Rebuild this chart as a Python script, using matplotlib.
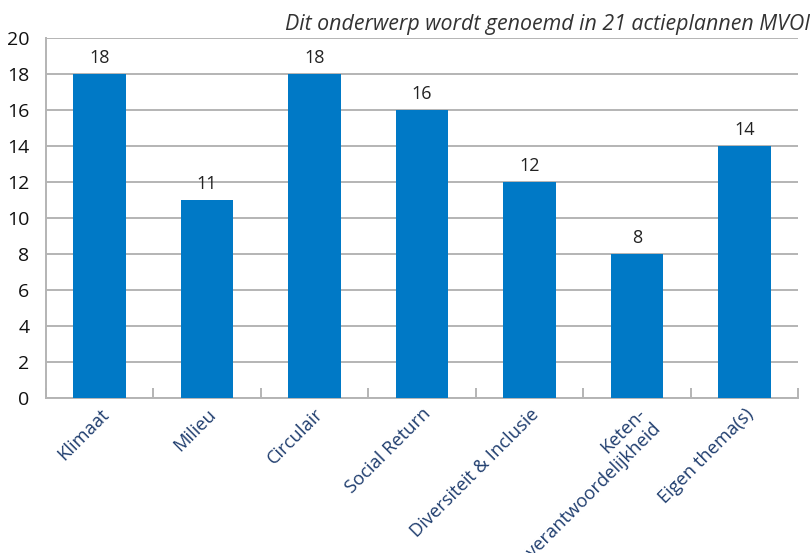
import matplotlib.pyplot as plt
import numpy as np

plt.rcParams['font.family'] = ['Open Sans', 'DejaVu Sans']

categories = ['Klimaat', 'Milieu', 'Circulair', 'Social Return',
              'Diversiteit & Inclusie', 'Keten-\nverantwoordelijkheid', 'Eigen thema(s)']
values = [18, 11, 18, 16, 12, 8, 14]
yticks = [0, 2, 4, 6, 8, 10, 12, 14, 16, 18, 20]

BAR_COL = '#0079c6'
LBL_COL = '#1f3d6e'
GRID_COL = '#b4b4b4'

fig = plt.figure(figsize=(8.1, 5.53), dpi=100)
ax = fig.add_axes([46 / 810, 1 - 398 / 553, 752 / 810, 360 / 553])

x = np.arange(len(categories))
bars = ax.bar(x, values, width=0.49, color=BAR_COL, zorder=3)

for b, v in zip(bars, values):
    ax.annotate(str(v), (b.get_x() + b.get_width() / 2, v), xytext=(0, 5),
                textcoords='offset points', ha='center', va='bottom',
                fontsize=13, color='#222222')

ax.set_xlim(-0.5, len(categories) - 0.5)
ax.set_ylim(0, 20)
ax.set_yticks(yticks)
ax.yaxis.grid(True, color=GRID_COL, linewidth=1.4, zorder=0)
ax.tick_params(axis='y', length=0, labelsize=14, pad=12, labelcolor='#111111')

# kleine streepjes tussen de categorieen
ax.set_xticks(np.arange(len(categories) + 1) - 0.5, minor=True)
ax.set_xticks(x)
ax.set_xticklabels(categories, rotation=45, ha='right', rotation_mode='anchor',
                   fontsize=13.2, color=LBL_COL, multialignment='right')
ax.tick_params(axis='x', which='major', length=0, pad=5)
ax.tick_params(axis='x', which='minor', direction='in', length=7, color=GRID_COL, width=1.4)

for s in ['top', 'right']:
    ax.spines[s].set_visible(False)
for s in ['left', 'bottom']:
    ax.spines[s].set_color(GRID_COL)
    ax.spines[s].set_linewidth(1.4)

fig.text(1.0, 1 - 30 / 553, 'Dit onderwerp wordt genoemd in 21 actieplannen MVOI',
         ha='right', va='baseline', fontsize=15.4, style='italic', color='#333333')

fig.savefig('out.png', dpi=100)
